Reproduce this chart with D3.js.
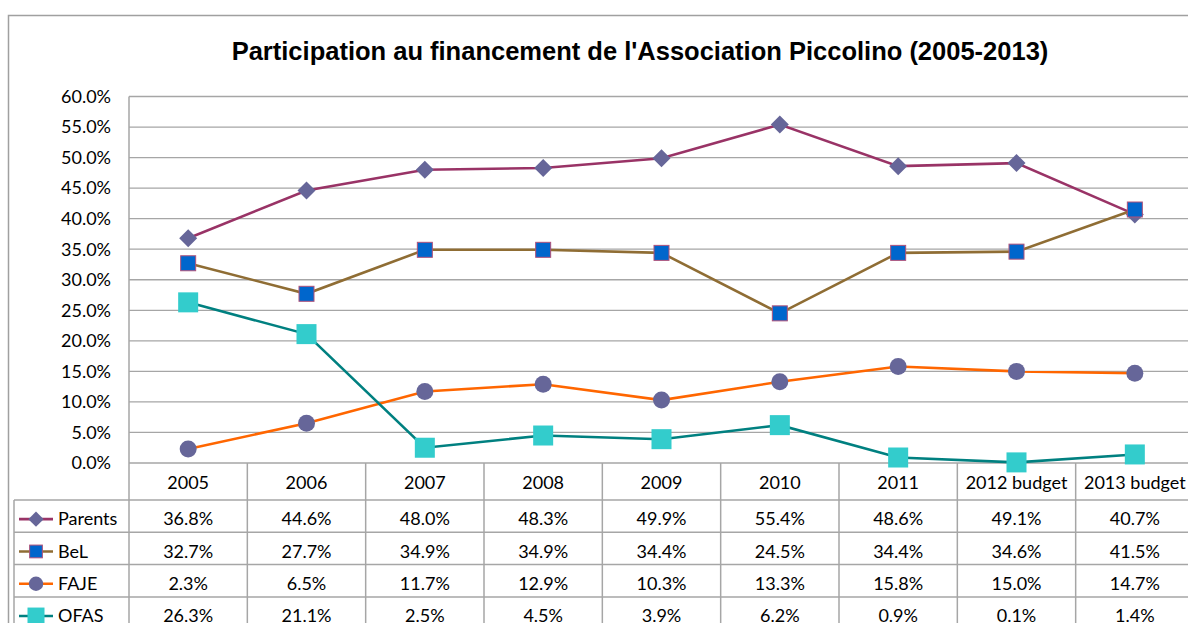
<!DOCTYPE html>
<html>
<head>
<meta charset="utf-8">
<script src="https://cdn.jsdelivr.net/npm/d3@7"></script>
<style>
  html, body { margin: 0; padding: 0; background: #fff; overflow: hidden; }
</style>
</head>
<body>
<div id="chart"></div>
<script>
// chart data
const years = ['2005', '2006', '2007', '2008', '2009', '2010', '2011', '2012 budget', '2013 budget']
const parents = [36.8, 44.6, 48.0, 48.3, 49.9, 55.4, 48.6, 49.1, 40.7]
const bel = [32.7, 27.7, 34.9, 34.9, 34.4, 24.5, 34.4, 34.6, 41.5]
const faje = [2.3, 6.5, 11.7, 12.9, 10.3, 13.3, 15.8, 15.0, 14.7]
const ofas = [26.3, 21.1, 2.5, 4.5, 3.9, 6.2, 0.9, 0.1, 1.4]
const yTicks = [0, 5, 10, 15, 20, 25, 30, 35, 40, 45, 50, 55, 60]

const series = [
  { name: 'Parents', values: parents, line: '#993366', fill: '#666699', stroke: 'none', shape: 'diamond', size: 18 },
  { name: 'BeL', values: bel, line: '#8f6d34', fill: '#0066cc', stroke: '#b0527a', shape: 'square', size: 15 },
  { name: 'FAJE', values: faje, line: '#ff6600', fill: '#666699', stroke: 'none', shape: 'circle', size: 17 },
  { name: 'OFAS', values: ofas, line: '#008080', fill: '#33cccc', stroke: 'none', shape: 'square', size: 20 },
]

const W = 1188, H = 623
const plot = { left: 129, right: 1194, top: 96.5, bottom: 463 }
const rowH = 32.3, headH = 37, legendLeft = 14
const font = 'Lato, Carlito, sans-serif'
const fs = '18px'

const svg = d3.select('#chart').append('svg')
  .attr('width', W).attr('height', H)
  .style('display', 'block')

// outer chart border
svg.append('rect')
  .attr('x', 8.5).attr('y', 15.5)
  .attr('width', 1300).attr('height', 700)
  .attr('fill', '#fff').attr('stroke', '#a0a0a0').attr('stroke-width', 1.5)

svg.append('text')
  .attr('x', 640).attr('y', 60)
  .attr('text-anchor', 'middle')
  .style('font-family', 'Liberation Sans, Arial, sans-serif')
  .style('font-weight', 'bold')
  .style('font-size', '25.5px')
  .text("Participation au financement de l'Association Piccolino (2005-2013)")

const x = d3.scaleBand().domain(years).range([plot.left, plot.right]).padding(0)
const cx = d => x(d) + x.bandwidth() / 2
const y = d3.scaleLinear().domain([0, 60]).range([plot.bottom, plot.top])

// gridlines
svg.append('g').selectAll('line').data(yTicks).join('line')
  .attr('x1', plot.left).attr('x2', plot.right)
  .attr('y1', d => y(d)).attr('y2', d => y(d))
  .attr('stroke', '#a6a6a6').attr('stroke-width', 1.3)

// y axis labels
svg.append('g').selectAll('text').data(yTicks).join('text')
  .attr('x', 111).attr('y', d => y(d))
  .attr('dy', '0.35em')
  .attr('text-anchor', 'end')
  .style('font-family', font).style('font-size', fs)
  .text(d => d.toFixed(1) + '%')

// left axis line
svg.append('line')
  .attr('x1', plot.left).attr('x2', plot.left)
  .attr('y1', plot.top).attr('y2', plot.bottom)
  .attr('stroke', '#a6a6a6').attr('stroke-width', 1.5)

// data table grid
const tableBottom = plot.bottom + headH + rowH * series.length
const tg = svg.append('g')
tg.selectAll('line.v').data(d3.range(years.length + 1)).join('line')
  .attr('class', 'v')
  .attr('x1', i => plot.left + i * x.bandwidth()).attr('x2', i => plot.left + i * x.bandwidth())
  .attr('y1', plot.bottom).attr('y2', tableBottom + 20)
  .attr('stroke', '#a6a6a6').attr('stroke-width', 1.5)
tg.selectAll('line.h').data(d3.range(series.length + 1)).join('line')
  .attr('class', 'h')
  .attr('x1', legendLeft).attr('x2', plot.right)
  .attr('y1', i => plot.bottom + headH + i * rowH).attr('y2', i => plot.bottom + headH + i * rowH)
  .attr('stroke', '#a6a6a6').attr('stroke-width', 1.5)
tg.append('line')
  .attr('x1', legendLeft).attr('x2', legendLeft)
  .attr('y1', plot.bottom + headH).attr('y2', tableBottom + 20)
  .attr('stroke', '#a6a6a6').attr('stroke-width', 1.5)

// header labels
tg.selectAll('text.head').data(years).join('text')
  .attr('class', 'head')
  .attr('x', d => cx(d)).attr('y', plot.bottom + headH / 2 + 1)
  .attr('dy', '0.35em').attr('text-anchor', 'middle')
  .style('font-family', font).style('font-size', fs)
  .text(d => d)

function marker(sel, s, px, py) {
  const r = s.size / 2
  if (s.shape === 'diamond') {
    sel.append('path')
      .attr('d', `M${px},${py - r}L${px + r},${py}L${px},${py + r}L${px - r},${py}Z`)
      .attr('fill', s.fill).attr('stroke', s.stroke)
  } else if (s.shape === 'circle') {
    sel.append('circle').attr('cx', px).attr('cy', py).attr('r', r)
      .attr('fill', s.fill).attr('stroke', s.stroke)
  } else {
    sel.append('rect').attr('x', px - r).attr('y', py - r)
      .attr('width', s.size).attr('height', s.size)
      .attr('fill', s.fill).attr('stroke', s.stroke)
  }
}

const line = d3.line().x((d, i) => cx(years[i])).y(d => y(d))

series.forEach((s, k) => {
  // series line + markers
  const g = svg.append('g')
  g.append('path')
    .attr('d', line(s.values))
    .attr('fill', 'none').attr('stroke', s.line).attr('stroke-width', 2.6)
  s.values.forEach((v, i) => marker(g, s, cx(years[i]), y(v)))

  // table row
  const rowMid = plot.bottom + headH + k * rowH + rowH / 2 + 3
  tg.append('line')
    .attr('x1', 19).attr('x2', 53)
    .attr('y1', rowMid).attr('y2', rowMid)
    .attr('stroke', s.line).attr('stroke-width', 2.6)
  marker(tg, Object.assign({}, s, { size: s.size * 0.85 }), 36, rowMid)
  tg.append('text')
    .attr('x', 58).attr('y', rowMid)
    .attr('dy', '0.35em')
    .style('font-family', font).style('font-size', fs)
    .text(s.name)
  tg.selectAll(null).data(s.values).join('text')
    .attr('x', (d, i) => cx(years[i])).attr('y', rowMid)
    .attr('dy', '0.35em').attr('text-anchor', 'middle')
    .style('font-family', font).style('font-size', fs)
    .text(d => d.toFixed(1) + '%')
})
</script>
</body>
</html>
